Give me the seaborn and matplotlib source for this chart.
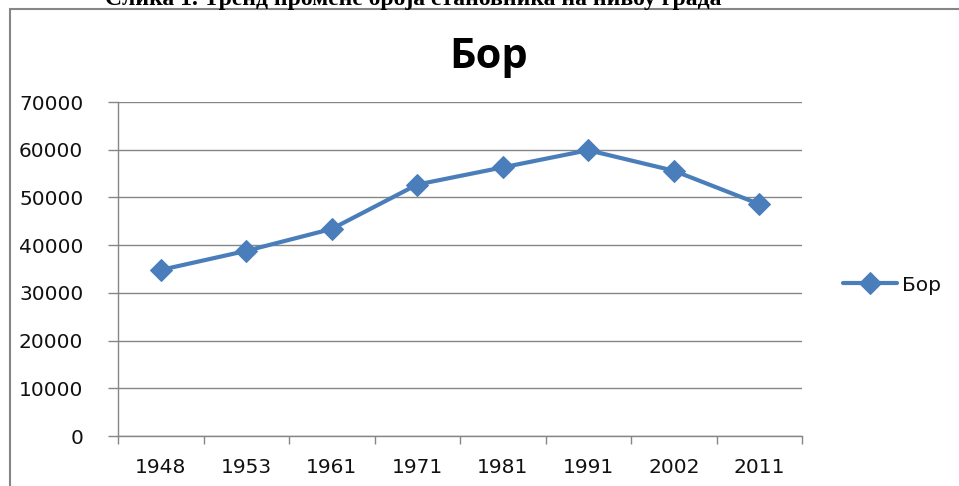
import pandas as pd
import seaborn as sns
import matplotlib.pyplot as plt
from matplotlib.patches import Rectangle

# podaci: broj stanovnika Bora po popisima
godine = ['1948', '1953', '1961', '1971', '1981', '1991', '2002', '2011']
stanovnici = [34800, 38800, 43400, 52700, 56300, 59900, 55600, 48600]
y_ticks = [0, 10000, 20000, 30000, 40000, 50000, 60000, 70000]

naslov = 'Бор'
natpis = 'Слика 1. Тренд промене броја становника на нивоу града'
boja = '#4A7EBB'
siva = '#868686'
tekst = '#111111'

df = pd.DataFrame({'Година': godine, 'Становници': stanovnici})

sns.set_style('white')
plt.rcParams['font.family'] = ['DejaVu Sans']
plt.rcParams['text.color'] = tekst

W, H = 959, 486
fig = plt.figure(figsize=(W / 100, H / 100), dpi=100)
ax = fig.add_axes([118 / W, 1 - 436 / H, (802 - 118) / W, (436 - 102) / H])

sns.lineplot(data=df, x='Година', y='Становници', ax=ax, color=boja,
             linewidth=3, marker='D', markersize=11, markeredgecolor=boja,
             label=naslov, sort=False)

ax.set_xlim(-0.5, len(godine) - 0.5)
ax.set_ylim(0, 70000)
ax.set_yticks(y_ticks)
ax.set_yticklabels([str(v) for v in y_ticks])
ax.set_xticks(range(len(godine)))
ax.set_xticklabels(godine)
ax.set_xticks([i - 0.5 for i in range(len(godine) + 1)], minor=True)
ax.set_xlabel('')
ax.set_ylabel('')

ax.grid(axis='y', color=siva, linewidth=1)
ax.grid(axis='x', visible=False)
ax.tick_params(axis='x', which='major', length=0, pad=16, labelsize=14.5, colors=tekst)
ax.tick_params(axis='x', which='minor', length=6, width=1, color=siva, bottom=True)
ax.tick_params(axis='y', length=7, width=1, color=siva, pad=18, labelsize=14.5,
               labelcolor=tekst, left=True)

for side in ['top', 'right']:
    ax.spines[side].set_visible(False)
for side in ['left', 'bottom']:
    ax.spines[side].set_color(siva)
    ax.spines[side].set_linewidth(1)

# legenda desno
ax.legend(loc='center left', bbox_to_anchor=(843 / W, 1 - 285 / H),
          bbox_transform=fig.transFigure, frameon=False, fontsize=14.5,
          handlelength=2.7, handletextpad=0.25, borderpad=0, borderaxespad=0,
          labelcolor=tekst)

# naslov grafika
fig.text(489 / W, 1 - 68 / H, naslov, ha='center', va='baseline', color='black',
         fontsize=30, fontweight='bold', family=['Open Sans', 'DejaVu Sans'])

# okvir grafika i odsečen natpis iznad (u originalu je natpis odsečen)
fig.patches.append(Rectangle((10 / W, -0.1), 1.2, 1 - 9 / H + 0.1,
                             transform=fig.transFigure, fill=False,
                             edgecolor=siva, linewidth=1.5))
fig.text(105 / W, 1 - 5 / H, natpis, ha='left', va='baseline', fontsize=17,
         fontweight='bold', color='black', family=['Liberation Serif', 'DejaVu Serif'])

fig.savefig('out.png', dpi=100)
